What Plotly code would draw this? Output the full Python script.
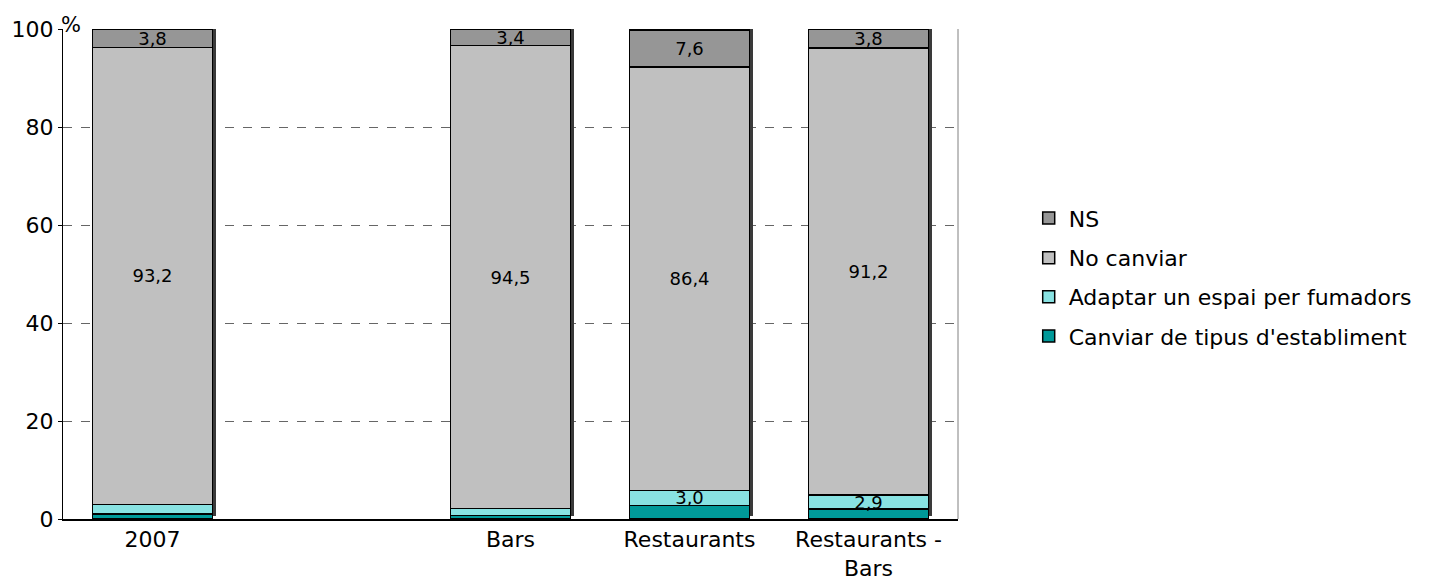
import plotly.graph_objects as go

# Data
categories = ["2007", "Bars", "Restaurants", "Restaurants -<br>Bars"]
cat_pos = [0, 2, 3, 4]  # slot 1 left empty as in the original
canviar = [1.0, 0.7, 2.8, 2.0]
adaptar = [2.0, 1.4, 3.0, 2.9]
no_canviar = [93.2, 94.5, 86.4, 91.2]
ns = [3.8, 3.4, 7.6, 3.8]

canviar_lbl = ["", "", "", ""]
adaptar_lbl = ["", "", "3,0", "2,9"]
no_canviar_lbl = ["93,2", "94,5", "86,4", "91,2"]
ns_lbl = ["3,8", "3,4", "7,6", "3,8"]

series = [
    ("Canviar de tipus d'establiment", canviar, canviar_lbl, "#009999", "legend4"),
    ("Adaptar un espai per fumadors", adaptar, adaptar_lbl, "#88E2E2", "legend3"),
    ("No canviar", no_canviar, no_canviar_lbl, "#C0C0C0", "legend2"),
    ("NS", ns, ns_lbl, "#969696", "legend"),
]

FONT = "DejaVu Sans"
BAR_W = 0.67
totals = [a + b + c + d for a, b, c, d in zip(canviar, adaptar, no_canviar, ns)]

fig = go.Figure()
# 3D depth (dark side face) behind the bars
fig.add_trace(go.Bar(
    x=cat_pos, y=totals, base=0.6, width=BAR_W, offset=-BAR_W / 2 + 0.018,
    marker=dict(color="#3a3a3a", line=dict(width=0)),
    showlegend=False, hoverinfo="skip", xaxis="x", yaxis="y",
))
for name, vals, lbls, col, leg in series:
    fig.add_trace(go.Bar(
        name=name, x=cat_pos, y=vals, text=lbls,
        textposition="inside", insidetextanchor="middle",
        constraintext="none", textangle=0,
        textfont=dict(family=FONT, size=18, color="black"),
        marker=dict(color=col, line=dict(color="black", width=1.5)),
        width=BAR_W, hoverinfo="skip", legend=leg, xaxis="x", yaxis="y2",
    ))

def leg(y):
    return dict(x=1.079, xanchor="left", y=y, yanchor="middle",
                font=dict(family=FONT, size=22), bgcolor="rgba(0,0,0,0)")

fig.update_layout(
    barmode="stack",
    width=1430, height=586,
    margin=dict(l=55, r=480, t=21, b=75, autoexpand=False),
    paper_bgcolor="white", plot_bgcolor="white",
    font=dict(family=FONT, size=22, color="black"),
    showlegend=True,
    legend=leg(0.614), legend2=leg(0.533), legend3=leg(0.453), legend4=leg(0.373),
    xaxis=dict(
        range=[-0.5, 4.5], tickmode="array", tickvals=cat_pos, ticktext=categories,
        showline=True, linecolor="black", linewidth=1.5, ticks="",
        showgrid=False, zeroline=False, tickfont=dict(size=22), automargin=False,
    ),
    yaxis=dict(
        range=[0, 100], tickvals=[0, 20, 40, 60, 80, 100],
        showline=True, linecolor="black", linewidth=1.2, mirror=False,
        ticks="outside", ticklen=4, tickcolor="black",
        showgrid=True, gridcolor="#666666", griddash="dash", gridwidth=1,
        zeroline=False, tickfont=dict(size=22), automargin=False,
    ),
    yaxis2=dict(
        range=[0, 100], overlaying="y", visible=False, showgrid=False,
        zeroline=False, automargin=False,
    ),
    annotations=[dict(
        text="%", xref="paper", yref="paper", x=0.0, y=1.0,
        xanchor="center", yanchor="bottom", showarrow=False,
        font=dict(family=FONT, size=21), yshift=-10, xshift=8,
    )],
    shapes=[dict(
        type="line", xref="paper", yref="paper", x0=1, x1=1, y0=0, y1=1,
        line=dict(color="#808080", width=1),
    )],
)

fig.write_html("out.html")
